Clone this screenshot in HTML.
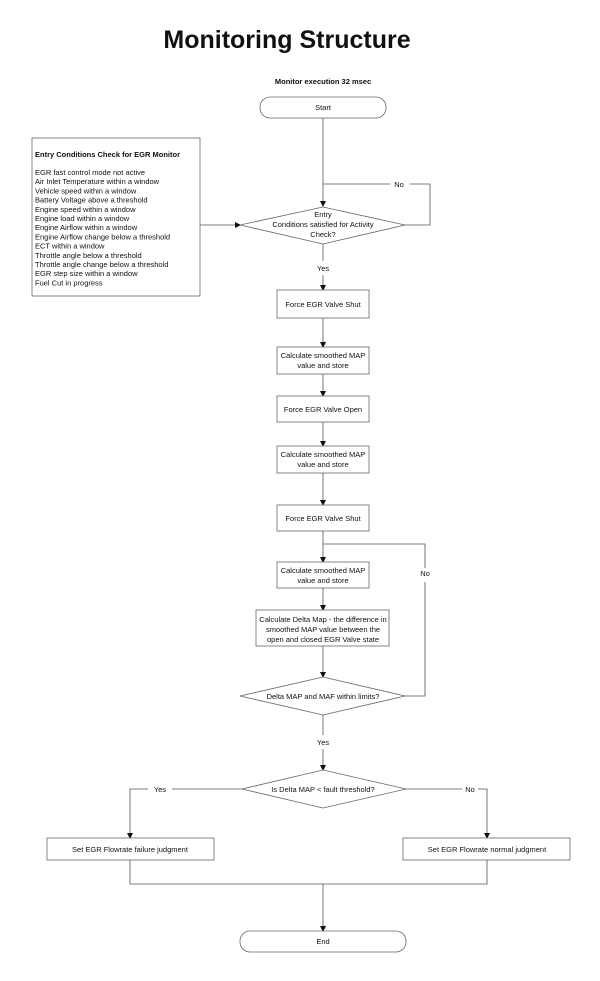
<!DOCTYPE html>
<html><head><meta charset="utf-8"><style>
body{margin:0;background:#fff;}
svg{display:block;font-family:"Liberation Sans",Arial,sans-serif;}
text{font-size:7.5px;fill:#111;}
.l{stroke:#555;stroke-width:0.8;fill:none;}
.b{stroke:#666;stroke-width:0.8;fill:#fff;}
</style></head><body>
<svg width="600" height="981" viewBox="0 0 600 981">
<defs><marker id="a" markerWidth="6" markerHeight="6" refX="5" refY="3" orient="auto" markerUnits="userSpaceOnUse"><path d="M0,0 L6,3 L0,6 z" fill="#111"/></marker></defs>
<text x="287" y="48" text-anchor="middle" style="font-size:25px;font-weight:bold">Monitoring Structure</text>
<text x="323" y="84" text-anchor="middle" style="font-weight:bold">Monitor execution 32 msec</text>
<rect class="b" x="260" y="97" width="126" height="21" rx="10"/>
<text x="323" y="110" text-anchor="middle">Start</text>
<rect class="b" x="32" y="138" width="168" height="158"/>
<text x="35" y="157" style="font-weight:bold">Entry Conditions Check for EGR Monitor</text>
<g>
<text x="35" y="175">EGR fast control mode not active</text>
<text x="35" y="184.2">Air Inlet Temperature within a window</text>
<text x="35" y="193.4">Vehicle speed within a window</text>
<text x="35" y="202.6">Battery Voltage above a threshold</text>
<text x="35" y="211.8">Engine speed within a window</text>
<text x="35" y="221">Engine load within a window</text>
<text x="35" y="230.2">Engine Airflow within a window</text>
<text x="35" y="239.4">Engine Airflow change below a threshold</text>
<text x="35" y="248.6">ECT within a window</text>
<text x="35" y="257.8">Throttle angle below a threshold</text>
<text x="35" y="267">Throttle angle change below a threshold</text>
<text x="35" y="276.2">EGR step size within a window</text>
<text x="35" y="285.4">Fuel Cut in progress</text>
</g>
<line class="l" x1="323" y1="118" x2="323" y2="206" marker-end="url(#a)"/>
<line class="l" x1="200" y1="225" x2="240" y2="225" marker-end="url(#a)"/>
<polygon class="b" points="240,225 323,207 405,225 323,244"/>
<text x="323" y="217" text-anchor="middle">Entry</text>
<text x="323" y="227" text-anchor="middle">Conditions satisfied for Activity</text>
<text x="323" y="237" text-anchor="middle">Check?</text>
<polyline class="l" points="405,225 430,225 430,184 410,184"/>
<polyline class="l" points="390,184 323,184"/>
<text x="399" y="187" text-anchor="middle">No</text>
<line class="l" x1="323" y1="244" x2="323" y2="261"/>
<text x="323" y="271" text-anchor="middle">Yes</text>
<line class="l" x1="323" y1="275" x2="323" y2="290" marker-end="url(#a)"/>
<rect class="b" x="277" y="290" width="92" height="28"/>
<text x="323" y="307" text-anchor="middle">Force EGR Valve Shut</text>
<line class="l" x1="323" y1="318" x2="323" y2="347" marker-end="url(#a)"/>
<rect class="b" x="277" y="347" width="92" height="27"/>
<text x="323" y="358" text-anchor="middle">Calculate smoothed MAP</text>
<text x="323" y="368" text-anchor="middle">value and store</text>
<line class="l" x1="323" y1="374" x2="323" y2="396" marker-end="url(#a)"/>
<rect class="b" x="277" y="396" width="92" height="26"/>
<text x="323" y="412" text-anchor="middle">Force EGR Valve Open</text>
<line class="l" x1="323" y1="422" x2="323" y2="446" marker-end="url(#a)"/>
<rect class="b" x="277" y="446" width="92" height="27"/>
<text x="323" y="457" text-anchor="middle">Calculate smoothed MAP</text>
<text x="323" y="467" text-anchor="middle">value and store</text>
<line class="l" x1="323" y1="473" x2="323" y2="505" marker-end="url(#a)"/>
<rect class="b" x="277" y="505" width="92" height="26"/>
<text x="323" y="521" text-anchor="middle">Force EGR Valve Shut</text>
<line class="l" x1="323" y1="531" x2="323" y2="562" marker-end="url(#a)"/>
<polyline class="l" points="323,544 425,544 425,568"/>
<text x="425" y="576" text-anchor="middle">No</text>
<polyline class="l" points="425,582 425,696 405,696"/>
<rect class="b" x="277" y="562" width="92" height="26"/>
<text x="323" y="573" text-anchor="middle">Calculate smoothed MAP</text>
<text x="323" y="583" text-anchor="middle">value and store</text>
<line class="l" x1="323" y1="588" x2="323" y2="610" marker-end="url(#a)"/>
<rect class="b" x="256" y="610" width="133" height="36"/>
<text x="323" y="622" text-anchor="middle">Calculate Delta Map - the difference in</text>
<text x="323" y="632" text-anchor="middle">smoothed MAP value between the</text>
<text x="323" y="642" text-anchor="middle">open and closed EGR Valve state</text>
<line class="l" x1="323" y1="646" x2="323" y2="677" marker-end="url(#a)"/>
<polygon class="b" points="240,696 323,677 405,696 323,715"/>
<text x="323" y="699" text-anchor="middle">Delta MAP and MAF within limits?</text>
<line class="l" x1="323" y1="715" x2="323" y2="735"/>
<text x="323" y="745" text-anchor="middle">Yes</text>
<line class="l" x1="323" y1="749" x2="323" y2="770" marker-end="url(#a)"/>
<polygon class="b" points="242,789 323,770 406,789 323,808"/>
<text x="323" y="792" text-anchor="middle">Is Delta MAP &lt; fault threshold?</text>
<polyline class="l" points="242,789 172,789"/>
<text x="160" y="792" text-anchor="middle">Yes</text>
<polyline class="l" points="148,789 130,789 130,838" marker-end="url(#a)"/>
<polyline class="l" points="406,789 462,789"/>
<text x="470" y="792" text-anchor="middle">No</text>
<polyline class="l" points="478,789 487,789 487,838" marker-end="url(#a)"/>
<rect class="b" x="47" y="838" width="167" height="22"/>
<text x="130" y="852" text-anchor="middle">Set EGR Flowrate failure judgment</text>
<rect class="b" x="403" y="838" width="167" height="22"/>
<text x="487" y="852" text-anchor="middle">Set EGR Flowrate normal judgment</text>
<polyline class="l" points="130,860 130,884 487,884 487,860"/>
<line class="l" x1="323" y1="884" x2="323" y2="931" marker-end="url(#a)"/>
<rect class="b" x="240" y="931" width="166" height="21" rx="10"/>
<text x="323" y="944" text-anchor="middle">End</text>
</svg>
</body></html>
